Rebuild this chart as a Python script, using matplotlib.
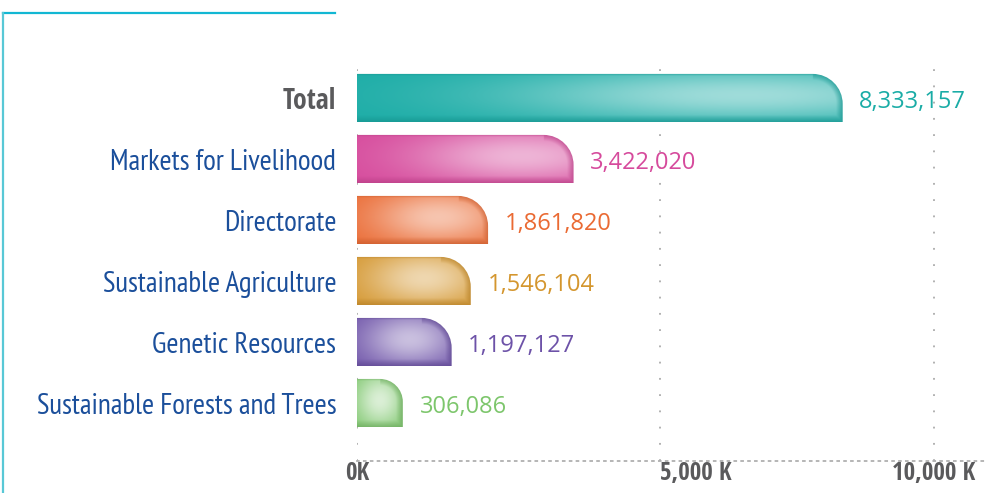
import numpy as np
import matplotlib
matplotlib.use("Agg")
import matplotlib.pyplot as plt
from matplotlib.path import Path
from matplotlib.patches import PathPatch
from matplotlib.lines import Line2D
from matplotlib.colors import to_rgb

categories = ["Total", "Markets for Livelihood", "Directorate",
              "Sustainable Agriculture", "Genetic Resources",
              "Sustainable Forests and Trees"]
amounts = [8333157, 3422020, 1861820, 1546104, 1197127, 306086]
bar_colors = ["#1AACA6", "#D64A9C", "#EA6A33", "#D4962E", "#6D52A8", "#7DC66C"]
tick_values = [0, 5000, 10000]
tick_labels = ["0K", "5,000 K", "10,000 K"]

NARROW = ["PT Sans Narrow", "Liberation Sans Narrow", "DejaVu Sans"]
NARROW_BOLD = ["Open Sans Condensed", "PT Sans Narrow", "DejaVu Sans"]
VALUE_FONT = ["Open Sans", "DejaVu Sans"]
BLUE = "#1B4F9B"
GREY = "#5A5A5C"
BASE = -530      # bars start left of zero, the rounded cap adds width
XMAX = 10985
BAR_H = 0.79
CORNER_PX = 30


def shade(color, w_px, h_px, r_px):
    # glossy look: soft white highlight, darker rim along the outline
    base = np.array(to_rgb(color))
    nx, ny = max(int(w_px * 2), 20), max(int(h_px * 2), 20)
    px = (np.arange(nx) + 0.5) / nx * w_px
    py = (np.arange(ny) + 0.5) / ny * h_px
    X, Y = np.meshgrid(px, py)

    # distance to the outline (top edge counts less)
    d = np.minimum.reduce([w_px - X, Y * 2.5, h_px - Y, X + 50])
    cx, cy = w_px - r_px, r_px
    corner = (X > cx) & (Y < cy)
    d = np.where(corner, r_px - np.hypot(X - cx, Y - cy), d)
    rim = np.clip(d / 7, 0, 1)

    uc = np.clip(0.4 + w_px / 600, 0.5, 0.8)
    amp = 0.58 + 0.35 * np.exp(-w_px / 50)
    sx = max(0.5 * w_px, 24)
    hl = amp * np.exp(-((X - uc * w_px) / sx) ** 2
                      - ((Y / h_px - 0.45) / 0.55) ** 2)
    hl = hl * (0.3 + 0.7 * rim)
    dark = 0.1 * (1 - rim)
    rgb = base[None, None, :] * (1 - hl[..., None]) + hl[..., None]
    return rgb * (1 - dark[..., None])


fig = plt.figure(figsize=(9.88, 4.93), dpi=100)
ax = fig.add_axes([357 / 988, 32 / 493, 631 / 988, 406 / 493])
ax.set_xlim(BASE, XMAX)
ax.set_ylim(5.95, -0.705)

fig.canvas.draw()
ax_w = ax.get_window_extent().width
ax_h = ax.get_window_extent().height
k_per_px = (XMAX - BASE) / ax_w
row_per_px = 6.655 / ax_h

for i, (amt, col) in enumerate(zip(amounts, bar_colors)):
    x0, x1 = BASE, amt / 1000
    yt, yb = i - BAR_H / 2, i + BAR_H / 2
    w_px = (x1 - x0) / k_per_px
    h_px = BAR_H / row_per_px
    r_px = min(CORNER_PX, w_px / 2)
    rx, ry = r_px * k_per_px, r_px * row_per_px
    c = 0.5523
    verts = [(x0, yb), (x0, yt), (x1 - rx, yt),
             (x1 - rx + c * rx, yt), (x1, yt + ry - c * ry), (x1, yt + ry),
             (x1, yb), (x0, yb)]
    codes = [Path.MOVETO, Path.LINETO, Path.LINETO,
             Path.CURVE4, Path.CURVE4, Path.CURVE4,
             Path.LINETO, Path.CLOSEPOLY]
    patch = PathPatch(Path(verts, codes), facecolor="none", edgecolor="none",
                      transform=ax.transData)
    ax.add_patch(patch)
    img = ax.imshow(shade(col, w_px, h_px, r_px),
                    extent=(x0, x1, yb, yt), aspect="auto",
                    interpolation="bilinear", zorder=3)
    img.set_clip_path(patch)
    ax.annotate(f"{amt:,}", xy=(x1, i), xytext=(12, -3),
                textcoords="offset points", ha="left", va="center",
                color=col, fontsize=17, family=VALUE_FONT)

ax.set_xlim(BASE, XMAX)
ax.set_ylim(5.95, -0.705)

tick_pos = [BASE if t == 0 else t for t in tick_values]
for x in tick_pos:
    ax.axvline(x, color="#ABABAB", lw=1.3, ls=(0, (1, 8)), zorder=1)

for s in ["top", "right", "left"]:
    ax.spines[s].set_visible(False)
ax.spines["bottom"].set_color("#B0B0B0")
ax.spines["bottom"].set_linewidth(1.3)
ax.spines["bottom"].set_linestyle((0, (1, 2.8)))

ax.set_xticks(tick_pos, tick_labels)
ax.tick_params(axis="x", length=0, pad=0)
for lab in ax.get_xticklabels():
    lab.set_family(NARROW_BOLD)
    lab.set_fontweight("bold")
    lab.set_fontsize(18)
    lab.set_color(GREY)
ax.get_xticklabels()[1].set_ha("left")

ax.set_yticks(range(len(categories)), categories)
ax.tick_params(axis="y", length=0, pad=15)
for i, lab in enumerate(ax.get_yticklabels()):
    if i == 0:
        lab.set_family(NARROW_BOLD)
        lab.set_fontweight("bold")
        lab.set_fontsize(20)
        lab.set_color(GREY)
    else:
        lab.set_family(NARROW)
        lab.set_fontsize(21)
        lab.set_color(BLUE)

# cyan frame in the top-left corner
fig.add_artist(Line2D([3 / 988, 335 / 988], [1 - 12.5 / 493] * 2,
                      color="#12B7D3", lw=1.6))
fig.add_artist(Line2D([3 / 988] * 2, [1 - 12.5 / 493, 0],
                      color="#58C8D6", lw=1.6))

fig.savefig("out.png", dpi=100)
